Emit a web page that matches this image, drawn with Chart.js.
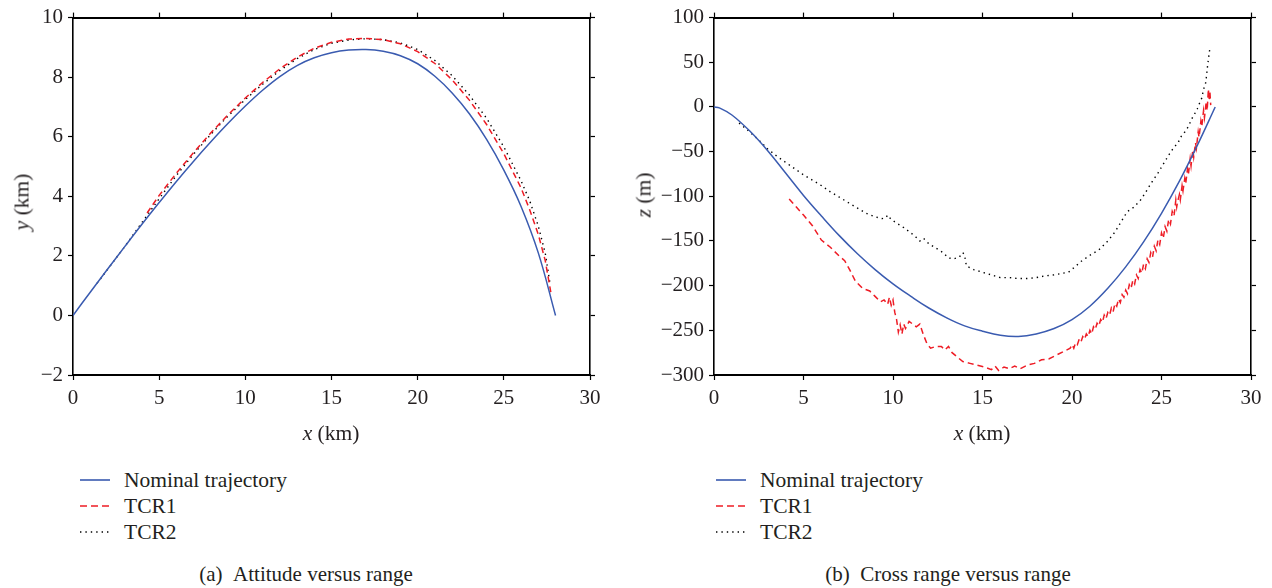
<!DOCTYPE html>
<html>
<head>
<meta charset="utf-8">
<title>Attitude and cross range versus range</title>
<script src="https://cdn.jsdelivr.net/npm/chart.js@4.4.1/dist/chart.umd.min.js"></script>
<style>
  body { margin: 0; background: #fff; font-family: 'Liberation Serif', 'Times New Roman', serif; color: #231f20; }
  #page { position: relative; width: 1272px; height: 588px; overflow: hidden; background: #fff; }
  canvas { position: absolute; top: 0; }
  .lbl { position: absolute; font-size: 21.5px; white-space: nowrap; transform: translate(-50%, -50%); }
  .ylbl { transform: translate(-50%, -50%) rotate(-90deg); }
  .legend { position: absolute; top: 467px; font-size: 21.5px; }
  .legend div { height: 26px; display: flex; align-items: center; white-space: nowrap; }
  .legend svg { width: 30px; height: 4px; margin-right: 14px; }
  .caption { position: absolute; top: 574px; font-size: 21px; white-space: nowrap; transform: translate(-50%, -50%); }
</style>
</head>
<body>
<div id="page">
  <canvas id="chartA" width="636" height="450" style="left:0"></canvas>
  <canvas id="chartB" width="636" height="450" style="left:636px"></canvas>

  <div class="lbl" style="left:331px; top:433px"><i>x</i> (km)</div>
  <div class="lbl ylbl" style="left:22px; top:202px"><i>y</i> (km)</div>
  <div class="lbl" style="left:982px; top:433px"><i>x</i> (km)</div>
  <div class="lbl ylbl" style="left:644px; top:195px"><i>z</i> (m)</div>

  <div class="legend" style="left:80px">
    <div><svg><line x1="0" y1="2" x2="30" y2="2" stroke="#3a5bb0" stroke-width="1.6"/></svg>Nominal trajectory</div>
    <div><svg><line x1="0" y1="2" x2="30" y2="2" stroke="#ee1c25" stroke-width="1.6" stroke-dasharray="7 4"/></svg>TCR1</div>
    <div><svg><line x1="0" y1="2" x2="30" y2="2" stroke="#000" stroke-width="1.4" stroke-dasharray="1.4 4"/></svg>TCR2</div>
  </div>
  <div class="legend" style="left:716px">
    <div><svg><line x1="0" y1="2" x2="30" y2="2" stroke="#3a5bb0" stroke-width="1.6"/></svg>Nominal trajectory</div>
    <div><svg><line x1="0" y1="2" x2="30" y2="2" stroke="#ee1c25" stroke-width="1.6" stroke-dasharray="7 4"/></svg>TCR1</div>
    <div><svg><line x1="0" y1="2" x2="30" y2="2" stroke="#000" stroke-width="1.4" stroke-dasharray="1.4 4"/></svg>TCR2</div>
  </div>

  <div class="caption" style="left:306px">(a)&nbsp;&nbsp;Attitude versus range</div>
  <div class="caption" style="left:948px">(b)&nbsp;&nbsp;Cross range versus range</div>
</div>

<script>
// Axis ranges (min, max, step)
var rangeX = [0, 30, 5];
var rangeYA = [-2, 10, 2];
var rangeZB = [-300, 100, 50];

// (a) Attitude versus range, km
var nomAX = [0, 1, 2, 3, 4, 5, 6, 7, 8, 9, 10, 11, 12, 13, 14, 15, 16, 17, 18, 19, 20, 21, 22, 23, 24, 25, 26, 27, 28];
var nomAY = [0, 0.78, 1.55, 2.31, 3.06, 3.79, 4.5, 5.18, 5.83, 6.45, 7.03, 7.56, 8.02, 8.39, 8.65, 8.82, 8.91, 8.93, 8.87, 8.72, 8.45, 8.03, 7.47, 6.77, 5.91, 4.88, 3.66, 2.1, 0];

var tcr1AX = [4.3, 5, 6, 7, 8, 9, 10, 11, 12, 13, 14, 15, 16, 17, 18, 19, 20, 21, 22, 23, 24, 25, 26, 26.5, 27, 27.4, 27.75];
var tcr1AY = [3.44, 4.03, 4.78, 5.47, 6.13, 6.74, 7.3, 7.82, 8.28, 8.67, 8.97, 9.17, 9.28, 9.3, 9.26, 9.12, 8.86, 8.46, 7.91, 7.23, 6.41, 5.43, 4.28, 3.55, 2.72, 1.85, 0.7];

var tcr2AX = [1.4, 2, 3, 4, 5, 6, 7, 8, 9, 10, 11, 12, 13, 14, 15, 16, 17, 18, 19, 20, 21, 22, 23, 24, 25, 26, 26.5, 27, 27.4, 27.7];
var tcr2AY = [1.08, 1.54, 2.31, 3.12, 3.92, 4.7, 5.42, 6.08, 6.7, 7.25, 7.76, 8.22, 8.62, 8.93, 9.14, 9.25, 9.29, 9.26, 9.15, 8.93, 8.56, 8.05, 7.4, 6.62, 5.66, 4.52, 3.85, 3.0, 2.1, 1.0];

// (b) Cross range versus range, x in km, z in m
var nomBX = [0, 0.3, 1, 2, 3, 4, 5, 6, 7, 8, 9, 10, 11, 12, 13, 14, 15, 16, 17, 18, 19, 20, 21, 22, 23, 24, 25, 26, 27, 28];
var nomBY = [0, -1, -9, -27, -49, -74, -99, -122, -144, -164, -182, -198, -212, -225, -236, -245, -251, -255.5, -256.8, -254, -248, -238, -223, -203, -179, -151, -119, -83, -43, 0];

var tcr1BX = [4.2, 4.6, 5.0, 5.5, 6.0, 6.5, 7.0, 7.3, 7.6, 7.9, 8.3, 8.7, 9.0, 9.3, 9.5, 9.7, 9.8, 9.9, 10.0, 10.1, 10.2, 10.3, 10.4, 10.5, 10.6, 10.7, 10.9, 11.1, 11.3, 11.5, 11.7, 11.9, 12.1, 12.4, 12.7, 12.9, 13.1, 13.3, 13.6, 13.9, 14.3, 14.7, 15.1, 15.5, 15.7, 15.9, 16.2, 16.5, 16.8, 17.1, 17.5, 17.9, 18.3, 18.7, 19.1, 19.5,
  19.9, 20.0, 20.1, 20.2, 20.3, 20.4, 20.5, 20.6, 20.7, 20.8, 20.9, 21.0, 21.1, 21.2, 21.3, 21.4, 21.5, 21.6, 21.7, 21.8, 21.9, 22.0, 22.1, 22.2, 22.3, 22.4, 22.5, 22.6, 22.7, 22.8, 22.9, 23.0, 23.1, 23.2, 23.3, 23.4, 23.5, 23.6, 23.7, 23.8, 23.9, 24.0, 24.1, 24.2, 24.3, 24.4, 24.5, 24.6, 24.7, 24.8, 24.9, 25.0, 25.1, 25.2, 25.3, 25.4, 25.5, 25.6, 25.7, 25.8, 25.85, 25.9, 26.0, 26.05, 26.15, 26.2, 26.3, 26.35, 26.45, 26.5, 26.6, 26.65, 26.75, 26.8, 26.9, 26.95, 27.05, 27.1, 27.2, 27.25, 27.35, 27.4, 27.5, 27.55, 27.62, 27.66, 27.7, 27.75];
var tcr1BY = [-103, -112, -121, -133, -149, -157, -167, -172, -183, -195, -203, -206, -212, -218, -216, -221, -213, -222, -216, -230, -238, -252, -244, -254, -243, -248, -240, -243, -246, -243, -255, -265, -270, -268, -268, -272, -268, -275, -280, -285, -287, -289, -291, -294, -290, -295, -291, -293, -290, -293, -289, -287, -283, -282, -278, -274,
  -270, -266, -270, -264, -266, -260, -263, -257, -260, -254, -257, -250, -254, -246, -249, -242, -245, -238, -241, -233, -237, -230, -233, -225, -229, -220, -223, -215, -219, -210, -213, -205, -209, -199, -203, -194, -198, -188, -192, -182, -186, -176, -181, -170, -174, -163, -168, -156, -161, -149, -154, -141, -147, -134, -139, -126, -131, -117, -122, -104, -112, -106, -98, -104, -88, -94, -80, -86, -70, -76, -58, -66, -48, -56, -40, -46, -28, -34, -16, -22, -4, -12, 6, -4, 20, 8, 18, 2];

var tcr2BX = [1.4, 2.0, 2.5, 3.0, 3.5, 4.0, 4.5, 5.0, 5.5, 6.0, 6.5, 7.0, 7.5, 8.0, 8.5, 9.0, 9.4, 9.6, 9.7, 9.9, 10.2, 10.6, 11.0, 11.3, 11.5, 11.7, 12.0, 12.4, 12.8, 13.1, 13.4, 13.7, 13.9, 14.0, 14.1, 14.5, 15.0, 15.5, 16.0, 16.5, 17.0, 17.5, 18.0, 18.5, 19.0, 19.5, 19.8, 20.1, 20.5, 21.0, 21.5, 22.0, 22.4, 22.7, 23.0, 23.1, 23.4, 23.8, 24.1, 24.4, 24.8, 25.1, 25.4, 25.7, 25.9, 26.1, 26.3, 26.5, 26.7, 26.9, 27.0, 27.1, 27.25, 27.35, 27.45, 27.5, 27.55, 27.6, 27.65, 27.7];
var tcr2BY = [-18, -28, -37, -47, -55, -62, -69, -76, -82, -88, -95, -101, -107, -113, -119, -123, -125, -124, -121, -126, -130, -135, -141, -146, -150, -147, -153, -158, -163, -169, -170, -168, -163, -166, -178, -182, -185, -188, -191, -191, -192, -192, -191, -189, -188, -186, -185, -180, -173, -166, -160, -150, -140, -130, -120, -117, -113, -105, -96, -86, -74, -64, -54, -45, -41, -33, -28, -22, -13, -6, -2, 3, 10, 20, 25, 32, 42, 50, 58, 65];

var BLUE = '#3a5bb0';
var RED = '#ee1c25';
var TICK_FONT = { family: "'Liberation Serif', 'Times New Roman', serif", size: 21 };

function points(xs, ys) {
  return xs.map(function (x, i) { return { x: x, y: ys[i] }; });
}

function fmt(v) {
  return String(v).replace('-', '\u2212');
}

// One side of the boxed frame; the bottom and left sides carry tick labels.
function axis(range, position, size, labelled, borderWidth) {
  var horizontal = position === 'top' || position === 'bottom';
  return {
    type: 'linear',
    position: position,
    min: range[0],
    max: range[1],
    border: { display: true, color: '#000', width: borderWidth },
    grid: { display: true, drawOnChartArea: false, drawTicks: true, tickLength: 5, tickWidth: 1.2, tickColor: '#000' },
    ticks: {
      display: labelled,
      stepSize: range[2],
      color: '#231f20',
      font: TICK_FONT,
      padding: horizontal ? 6 : 5,
      maxRotation: 0,
      callback: fmt,
    },
    afterFit: function (scale) {
      if (horizontal) {
        scale.height = size;
      } else {
        scale.width = size;
      }
    },
  };
}

function drawChart(id, rangeY, frame, series) {
  return new Chart(document.getElementById(id), {
    type: 'line',
    data: {
      datasets: [
        {
          label: 'Nominal trajectory',
          data: points(series[0], series[1]),
          borderColor: BLUE,
          borderWidth: 1.5,
          pointRadius: 0,
          tension: 0.4,
        },
        {
          label: 'TCR1',
          data: points(series[2], series[3]),
          borderColor: RED,
          borderWidth: 1.5,
          borderDash: [6, 4],
          pointRadius: 0,
          tension: 0,
        },
        {
          label: 'TCR2',
          data: points(series[4], series[5]),
          borderColor: '#000',
          borderWidth: 1.4,
          borderDash: [1.4, 4],
          pointRadius: 0,
          tension: 0,
        },
      ],
    },
    options: {
      responsive: false,
      animation: false,
      devicePixelRatio: 1,
      layout: { padding: 0 },
      plugins: { legend: { display: false }, tooltip: { enabled: false } },
      scales: {
        x: axis(rangeX, 'bottom', frame.bottom, true, 2),
        x2: axis(rangeX, 'top', frame.top, false, 2),
        y: axis(rangeY, 'left', frame.left, true, 1.6),
        y2: axis(rangeY, 'right', frame.right, false, 1.6),
      },
    },
  });
}

drawChart('chartA', rangeYA, { left: 73, right: 46, top: 15, bottom: 75 },
  [nomAX, nomAY, tcr1AX, tcr1AY, tcr2AX, tcr2AY]);
drawChart('chartB', rangeZB, { left: 78, right: 21, top: 14, bottom: 75 },
  [nomBX, nomBY, tcr1BX, tcr1BY, tcr2BX, tcr2BY]);
</script>
</body>
</html>
